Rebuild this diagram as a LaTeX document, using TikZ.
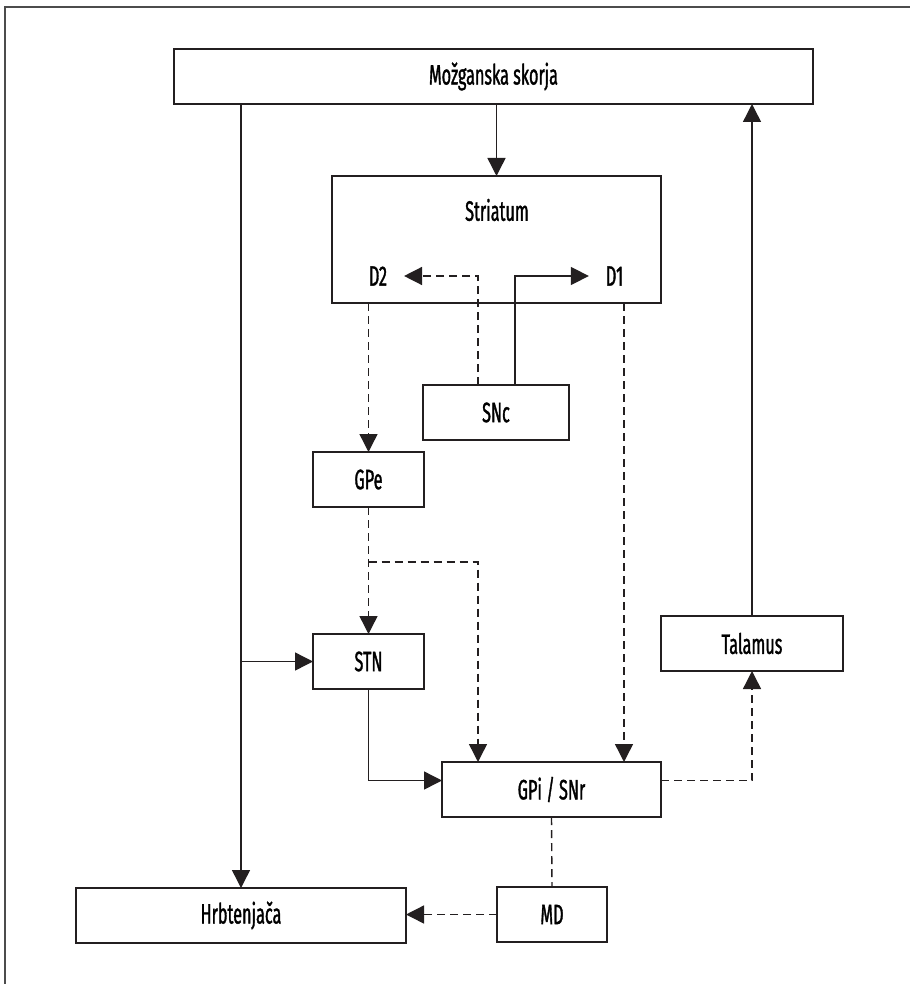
\documentclass[tikz,border=0pt]{standalone}
\usepackage{fontspec}
\setmainfont{Fira Sans}[FakeStretch=0.58, FakeBold=1.2]
\usetikzlibrary{arrows.meta}
\definecolor{ink}{RGB}{35,31,32}
\begin{document}
\begin{tikzpicture}[x=1pt, y=-1pt,
        box/.style={rectangle, draw=ink, line width=1.3pt, inner sep=0pt, outer sep=0pt, minimum height=55pt, font=\fontsize{28}{32}\selectfont},
        rec/.style={inner xsep=17pt, inner ysep=0pt, outer sep=0pt, font=\fontsize{28}{32}\selectfont},
        line/.style={draw=ink, line width=1.4pt, -{Triangle[length=18pt, width=18pt]}},
        dline/.style={draw=ink, line width=1.4pt, dash pattern=on 8pt off 5pt},
        darr/.style={dline, -{Triangle[length=18pt, width=18pt]}}
    ]
        \useasboundingbox (0,0) rectangle (910,984);
        \draw[line width=1.8pt, gray!60!black] (5,984) -- (5,7) -- (910,7);

        \node[box, minimum width=639pt] (skorja) at (493.5, 76.5) {Možganska skorja};
        \node[box, minimum width=329pt, minimum height=127pt] (striatum) at (496.5, 239.5) {};
        \node[font=\fontsize{28}{32}\selectfont] (striatumlbl) at (497, 210) {Striatum};
        \node[rec] (d2) at (378, 276) {D2};
        \node[rec] (d1) at (614.5, 276) {D1};
        \node[box, minimum width=146pt] (snc) at (496, 412.5) {SNc};
        \node[box, minimum width=111pt] (gpe) at (368.5, 479.5) {GPe};
        \node[box, minimum width=111pt] (stn) at (368.5, 661.5) {STN};
        \node[box, minimum width=182pt] (talamus) at (752, 643.5) {Talamus};
        \node[box, minimum width=219pt] (gpi) at (551.5, 789.5) {GPi / SNr};
        \node[box, minimum width=110pt] (md) at (552, 914.5) {MD};
        \node[box, minimum width=330pt] (hrbt) at (241, 915.5) {Hrbtenjača};

        % vhodi v GPi / SNr
        \coordinate (gpesplit) at (368.5, 562);
        \coordinate (gpiL) at (478, 762);
        \coordinate (gpiR) at (624, 762);

        \draw[line] (striatum.north |- skorja.south) -- (striatum.north);
        \draw[line] (talamus.north) -- (talamus.north |- skorja.south);
        \draw[line] (hrbt.north |- skorja.south) -- (hrbt.north);
        \draw[line] (hrbt.north |- stn.west) -- (stn.west);

        % SNc -> D1, D2
        \draw[darr] ([xshift=-18pt]snc.north) |- (d2.east);
        \draw[line] ([xshift=19pt]snc.north) |- (d1.west);

        \draw[darr] (gpe.north |- striatum.south) -- (gpe.north);
        \draw[darr] (gpiR |- striatum.south) -- (gpiR);
        \draw[darr] (gpe.south) -- (stn.north);
        \draw[darr] (gpesplit) -| (gpiL);
        \draw[line] (stn.south) |- ([yshift=9pt]gpi.west);
        \draw[darr] ([yshift=9pt]gpi.east) -| (talamus.south);
        \draw[dline] (gpi.south) -- (md.north);
        \draw[darr] (md.west) -- (md.west -| hrbt.east);
    \end{tikzpicture}
\end{document}
